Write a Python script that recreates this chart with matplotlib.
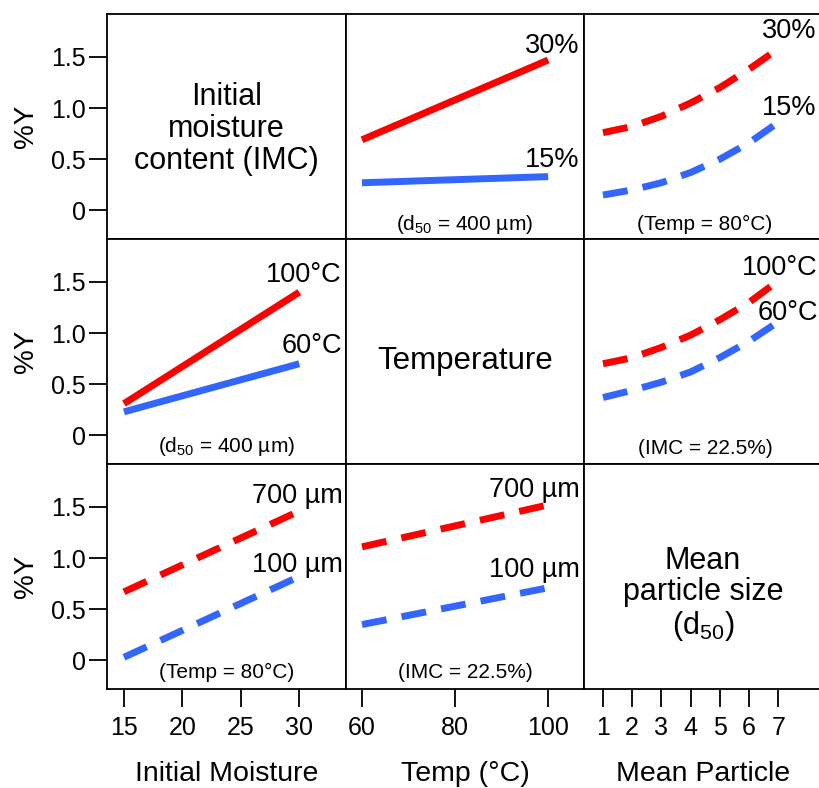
"""3x3 matrix of effect plots: %Y against IMC, temperature and particle size."""
import matplotlib
matplotlib.use("Agg")
import matplotlib.pyplot as plt

plt.rcParams["font.family"] = ["Liberation Sans", "DejaVu Sans"]
plt.rcParams["mathtext.fontset"] = "custom"
plt.rcParams["mathtext.rm"] = "Liberation Sans"
plt.rcParams["mathtext.it"] = "Liberation Sans:italic"

RED = "#ff0000"
BLUE = "#3366ff"

# x values for each factor
imc_x = [15, 30]
temp_x = [60, 100]
size_x = [1, 2, 3, 4, 5, 6, 7]

# row 1: series split by initial moisture content
imc15_vs_temp = [0.27, 0.33]
imc30_vs_temp = [0.69, 1.47]
imc15_vs_size = [0.15, 0.20, 0.27, 0.37, 0.50, 0.66, 0.86]
imc30_vs_size = [0.76, 0.82, 0.92, 1.05, 1.20, 1.38, 1.58]

# row 2: series split by temperature
t60_vs_imc = [0.23, 0.70]
t100_vs_imc = [0.31, 1.40]
t60_vs_size = [0.37, 0.44, 0.52, 0.62, 0.76, 0.92, 1.11]
t100_vs_size = [0.70, 0.76, 0.86, 0.98, 1.13, 1.30, 1.51]

# row 3: series split by mean particle size
d100_vs_imc = [0.03, 0.82]
d700_vs_imc = [0.67, 1.46]
d100_vs_temp = [0.35, 0.71]
d700_vs_temp = [1.11, 1.52]

y_ticks = [0, 0.5, 1.0, 1.5]
y_tick_labels = ["0", "0.5", "1.0", "1.5"]
x_ticks = [[15, 20, 25, 30], [60, 80, 100], size_x]
x_labels = ["Initial Moisture", "Temp (°C)", "Mean Particle"]
x_limits = [(13.55, 34.0), (56.56, 107.7), (0.35, 8.5)]
y_limits = (-0.28, 1.92)

W, H = 819, 788
col_px = [107, 346, 584, 822]
row_px = [14, 239, 464, 689]

fig = plt.figure(figsize=(W / 100, H / 100), dpi=100)

axes = []
for r in range(3):
    row = []
    for c in range(3):
        left = col_px[c] / W
        width = (col_px[c + 1] - col_px[c]) / W
        bottom = 1 - row_px[r + 1] / H
        height = (row_px[r + 1] - row_px[r]) / H
        ax = fig.add_axes([left, bottom, width, height])
        ax.set_xlim(*x_limits[c])
        ax.set_ylim(*y_limits)
        for s in ax.spines.values():
            s.set_linewidth(1.3)
        if c == 2:
            ax.spines["right"].set_visible(False)
        if c == 0:
            ax.set_yticks(y_ticks)
            ax.set_yticklabels(y_tick_labels)
            ax.tick_params(axis="y", direction="out", length=13, width=1.3,
                           pad=2, labelsize=18)
            ax.set_ylabel("%Y", fontsize=20, labelpad=9)
        else:
            ax.set_yticks([])
        if r == 2:
            ax.set_xticks(x_ticks[c])
            ax.tick_params(axis="x", direction="out", length=13, width=1.3,
                           pad=6.5, labelsize=18)
            ax.set_xlabel(x_labels[c], fontsize=20.5, labelpad=15)
        else:
            ax.set_xticks([])
        row.append(ax)
    axes.append(row)

solid = dict(lw=5, solid_capstyle="butt")
dashed = dict(lw=5, dashes=(3.6, 2.2), dash_capstyle="butt")
lbl = dict(ha="right", va="baseline", fontsize=19.5)
note = dict(ha="center", va="baseline", fontsize=15)

# diagonal panels: factor names
axes[0][0].text(0.5, 0.49, "Initial\nmoisture\ncontent (IMC)",
                transform=axes[0][0].transAxes, ha="center", va="center",
                fontsize=22, linespacing=1.08)
axes[1][1].text(0.5, 0.46, "Temperature", transform=axes[1][1].transAxes,
                ha="center", va="center", fontsize=22.5)
axes[2][2].text(0.5, 0.42, "Mean\nparticle size\n(d$_{50}$)",
                transform=axes[2][2].transAxes, ha="center", va="center",
                fontsize=22, linespacing=1.05)

# row 1
ax = axes[0][1]
ax.plot(temp_x, imc30_vs_temp, color=RED, **solid)
ax.plot(temp_x, imc15_vs_temp, color=BLUE, **solid)
ax.text(0.979, 0.827, "30%", transform=ax.transAxes, **lbl)
ax.text(0.979, 0.32, "15%", transform=ax.transAxes, **lbl)
ax.text(0.5, 0.04, "(d$_{50}$ = 400 µm)", transform=ax.transAxes, **note)

ax = axes[0][2]
ax.plot(size_x, imc30_vs_size, color=RED, **dashed)
ax.plot(size_x, imc15_vs_size, color=BLUE, **dashed)
ax.text(0.975, 0.893, "30%", transform=ax.transAxes, **lbl)
ax.text(0.975, 0.551, "15%", transform=ax.transAxes, **lbl)
ax.text(0.508, 0.04, "(Temp = 80°C)", transform=ax.transAxes, **note)

# row 2
ax = axes[1][0]
ax.plot(imc_x, t100_vs_imc, color=RED, **solid)
ax.plot(imc_x, t60_vs_imc, color=BLUE, **solid)
ax.text(0.983, 0.809, "100°C", transform=ax.transAxes, **lbl)
ax.text(0.983, 0.493, "60°C", transform=ax.transAxes, **lbl)
ax.text(0.5, 0.053, "(d$_{50}$ = 400 µm)", transform=ax.transAxes, **note)

ax = axes[1][2]
ax.plot(size_x, t100_vs_size, color=RED, **dashed)
ax.plot(size_x, t60_vs_size, color=BLUE, **dashed)
ax.text(0.983, 0.84, "100°C", transform=ax.transAxes, **lbl)
ax.text(0.983, 0.64, "60°C", transform=ax.transAxes, **lbl)
ax.text(0.508, 0.045, "(IMC = 22.5%)", transform=ax.transAxes, **note)

# row 3
ax = axes[2][0]
ax.plot(imc_x, d700_vs_imc, color=RED, **dashed)
ax.plot(imc_x, d100_vs_imc, color=BLUE, **dashed)
ax.text(0.987, 0.827, "700 µm", transform=ax.transAxes, **lbl)
ax.text(0.987, 0.52, "100 µm", transform=ax.transAxes, **lbl)
ax.text(0.5, 0.05, "(Temp = 80°C)", transform=ax.transAxes, **note)

ax = axes[2][1]
ax.plot(temp_x, d700_vs_temp, color=RED, **dashed)
ax.plot(temp_x, d100_vs_temp, color=BLUE, **dashed)
ax.text(0.983, 0.853, "700 µm", transform=ax.transAxes, **lbl)
ax.text(0.983, 0.498, "100 µm", transform=ax.transAxes, **lbl)
ax.text(0.5, 0.05, "(IMC = 22.5%)", transform=ax.transAxes, **note)

fig.savefig("out.png", dpi=100)
